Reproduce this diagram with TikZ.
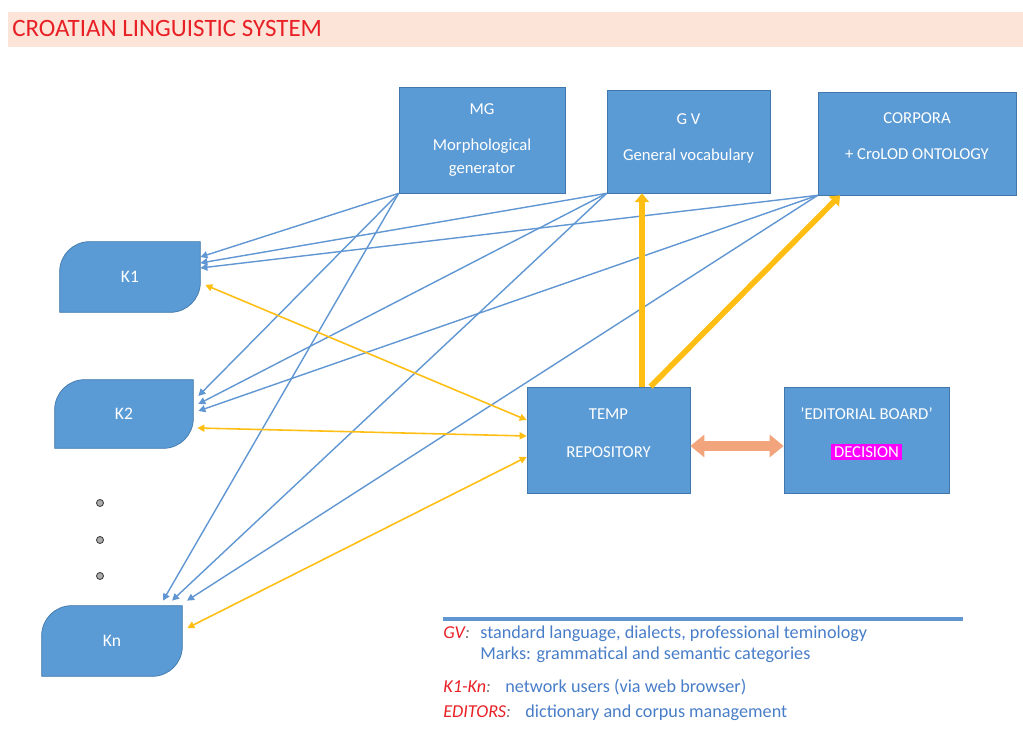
\documentclass[tikz,border=0pt]{standalone}
\usepackage{fontspec}
\setmainfont{Carlito}
\usetikzlibrary{arrows.meta,backgrounds}
\definecolor{boxblue}{RGB}{91,155,213}
\definecolor{boxline}{RGB}{65,119,170}
\definecolor{bandpink}{RGB}{252,228,216}
\definecolor{titlered}{RGB}{232,32,38}
\definecolor{flowgold}{RGB}{255,190,20}
\definecolor{linkblue}{RGB}{96,150,210}
\definecolor{peach}{RGB}{242,165,125}
\definecolor{decmag}{RGB}{255,0,255}
\definecolor{legblue}{RGB}{72,125,200}
\setlength{\fboxsep}{1.5pt}

\begin{document}
\begin{tikzpicture}[x=0.02cm, y=0.02cm,
    box/.style={rectangle, draw=boxline, line width=0.4pt, fill=boxblue, text=white,
                align=center, inner sep=0pt, font=\fontsize{9.5}{13}\selectfont},
    kbox/.style={minimum width=2.8cm, minimum height=1.4cm, inner sep=0pt,
                 text=white, font=\fontsize{10}{11}\selectfont},
    kshape/.style={fill=boxblue, draw=boxline, line width=0.4pt},
    vdot/.style={circle, fill=gray!65, draw=gray!50!black, line width=0.5pt,
                 minimum size=1.4mm, inner sep=0pt},
    feed/.style={linkblue, line width=0.8pt, -{Triangle[width=4pt,length=4pt]}},
    sync/.style={flowgold, line width=0.9pt,
                 {Triangle[width=4pt,length=4pt]}-{Triangle[width=4pt,length=4pt]}},
    push/.style={flowgold, line width=3.2pt, -{Triangle[width=8pt,length=5pt]}},
    leg/.style={font=\fontsize{10.35}{12}\selectfont, anchor=base west, inner sep=0pt, text=legblue},
    legkey/.style={leg, text=titlered, font=\fontsize{10.35}{12}\selectfont\itshape}]
  \useasboundingbox (0,0) rectangle (1023,733);

  % ---------- title ---------------------------------------------------------
  \fill[bandpink] (8,686) rectangle (1023,721);
  \node[anchor=base west, inner sep=0pt, text=titlered, font=\fontsize{14.2}{16}\selectfont]
    (title) at (12,696) {CROATIAN LINGUISTIC SYSTEM};

  % ---------- resources and repository --------------------------------------
  \node[box, minimum width=3.32cm, minimum height=2.12cm] (MG) at (482,593)
    {MG\\[7.4pt]Morphological\\generator};
  \node[box, minimum width=3.26cm, minimum height=2.06cm] (GV) at (688.5,591.5)
    {G V\\[7.4pt]General vocabulary\\[-8pt]\mbox{}};
  \node[box, minimum width=3.96cm, minimum height=2.06cm] (CORP) at (917,589.5)
    {CORPORA\\[7.4pt]+ CroLOD ONTOLOGY\\[-5pt]\mbox{}};
  \node[box, minimum width=3.26cm, minimum height=2.12cm] (TEMP) at (608.5,293)
    {TEMP\\[8.5pt]REPOSITORY\\[-5pt]\mbox{}};
  \node[box, minimum width=3.30cm, minimum height=2.12cm] (ED) at (866.5,293)
    {'EDITORIAL BOARD'\\[8.5pt]\colorbox{decmag}{DECISION}\\[-5pt]\mbox{}};

  % ---------- users ---------------------------------------------------------
  \node[kbox] (K1) at (130,456) {K1};
  \node[kbox, minimum width=2.76cm, minimum height=1.36cm] (K2) at (124,319) {K2};
  \node[kbox] (Kn) at (112,92) {Kn};
  \begin{scope}[on background layer]
    \foreach \k in {K1,K2,Kn} {
      \filldraw[kshape] (\k.south west) -- ([yshift=-0.6cm]\k.north west)
        arc[start angle=180, end angle=90, radius=0.6cm] -- (\k.north east)
        -- ([yshift=0.6cm]\k.south east)
        arc[start angle=0, end angle=-90, radius=0.6cm] -- cycle; }
  \end{scope}
  \foreach \y [count=\i] in {230,193,157} { \node[vdot] (dot\i) at (100,\y) {}; }

  % ---------- resources -> users --------------------------------------------
  \foreach \src/\dy in {MG/0.4,GV/0.28,CORP/0.18} {
    \draw[feed] (\src.south west) -- ([yshift=\dy cm]K1.east); }
  \foreach \src/\dy in {MG/0.36,GV/0.2,CORP/0.06} {
    \draw[feed] (\src.south west) -- ([xshift=0.1cm,yshift=\dy cm]K2.east); }
  \foreach \src/\dx in {MG/1.02,GV/1.2,CORP/1.5} {
    \draw[feed] (\src.south west) -- ([xshift=\dx cm,yshift=0.1cm]Kn.north); }

  % ---------- users <-> repository ------------------------------------------
  \draw[sync] ([xshift=0.1cm,yshift=-0.16cm]K1.east) -- ([yshift=0.4cm]TEMP.west);
  \draw[sync] ([xshift=0.08cm,yshift=-0.28cm]K2.east) -- ([yshift=0.08cm]TEMP.west);
  \draw[sync] ([xshift=0.1cm,yshift=0.26cm]Kn.east) -- ([yshift=-0.34cm]TEMP.west);

  % ---------- repository -> resources, board --------------------------------
  \draw[push] ([xshift=0.67cm]TEMP.north) -- ([xshift=0.67cm]TEMP.north |- GV.south);
  \draw[push] ([xshift=0.84cm]TEMP.north) -- ([xshift=-1.54cm]CORP.south);
  \draw[peach, line width=5.5pt, {Triangle[width=12.5pt,length=8pt]}-{Triangle[width=12.5pt,length=8pt]}]
    ([yshift=-0.12cm]TEMP.east) -- ([yshift=-0.12cm]ED.west);

  % ---------- legend --------------------------------------------------------
  \draw[linkblue, line width=2.3pt] (443,114) -- (963,114);
  \node[legkey] (kGV) at (443,94) {GV\textcolor{gray}{:}};
  \node[leg] (tGV) at (480,94) {standard language, dialects, professional teminology};
  \node[leg] (tMarks) at (480,73) {Marks: grammatical and semantic categories};
  \node[legkey] (kK) at (443,41) {K1-Kn\textcolor{gray}{:}};
  \node[leg] (tK) at (505,41) {network users (via web browser)};
  \node[legkey] (kEd) at (443,16) {EDITORS\textcolor{gray}{:}};
  \node[leg] (tEd) at (525,16) {dictionary and corpus management};
\end{tikzpicture}
\end{document}
